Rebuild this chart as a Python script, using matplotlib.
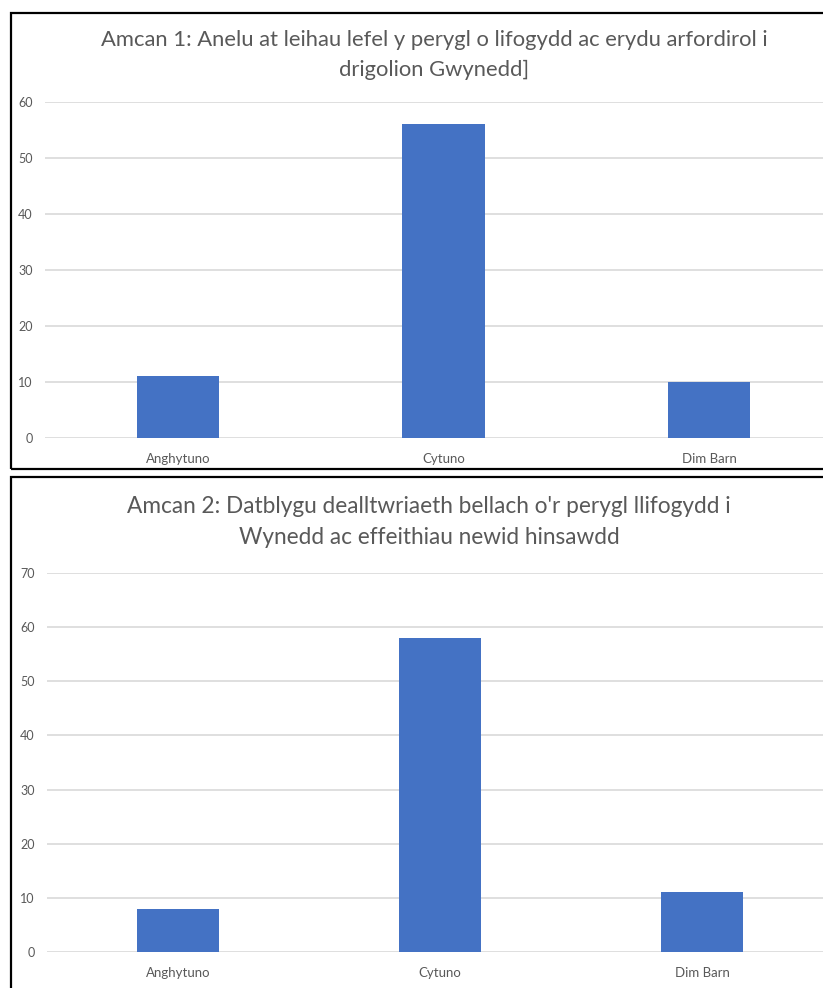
import matplotlib as mpl
mpl.use('Agg')
import matplotlib.pyplot as plt
from matplotlib.patches import Rectangle

# survey answers for the two objectives
categories = ["Anghytuno", "Cytuno", "Dim Barn"]
amcan1_values = [11, 56, 10]
amcan2_values = [8, 58, 11]
amcan1_title = "Amcan 1: Anelu at leihau lefel y perygl o lifogydd ac erydu arfordirol i\ndrigolion Gwynedd]"
amcan2_title = "Amcan 2: Datblygu dealltwriaeth bellach o'r perygl llifogydd i\nWynedd ac effeithiau newid hinsawdd"
amcan1_yticks = [0, 10, 20, 30, 40, 50, 60]
amcan2_yticks = [0, 10, 20, 30, 40, 50, 60, 70]

W, H = 823, 988
bar_col = "#4472C4"
txt_col = "#595959"
grid_col = "#D9D9D9"
plt.rcParams['font.family'] = ['Lato', 'DejaVu Sans']

fig = plt.figure(figsize=(W/100, H/100), dpi=100)
fig.patch.set_facecolor("white")

def px_box(x0, x1, ytop, ybot):
  return [x0/W, 1 - ybot/H, (x1 - x0)/W, (ybot - ytop)/H]

def draw_chart(box, values, yticks, title, title_x, title_y, title_size):
  ax = fig.add_axes(box)
  x = range(len(categories))
  ax.bar(x, values, width=0.31, color=bar_col, zorder=3)
  ax.set_xlim(-0.5, len(categories) - 0.5)
  ax.set_ylim(yticks[0], yticks[-1])
  ax.set_yticks(yticks)
  ax.set_xticks(list(x))
  ax.set_xticklabels(categories)
  ax.yaxis.grid(True, color=grid_col, linewidth=1.2, zorder=0)
  ax.set_axisbelow(True)
  for s in ax.spines.values():
    s.set_visible(False)
  ax.tick_params(axis='y', length=0, pad=9, labelsize=9, labelcolor=txt_col)
  ax.tick_params(axis='x', length=0, pad=11, labelsize=9.5, labelcolor=txt_col)
  fig.text(title_x/W, 1 - title_y/H, title, ha='center', va='top',
           fontsize=title_size, color=txt_col, linespacing=1.6)
  return ax

# chart 1
draw_chart(px_box(45, 842, 102, 438), amcan1_values, amcan1_yticks, amcan1_title, 434, 30, 15.8)
# chart 2
draw_chart(px_box(47, 833, 573, 952), amcan2_values, amcan2_yticks, amcan2_title, 429, 496, 16.3)

# black frames around each chart
fig.patches.append(Rectangle((11/W, 1 - 469/H), (W + 20)/W, 456/H, transform=fig.transFigure,
                             fill=False, edgecolor="black", linewidth=1.6))
fig.patches.append(Rectangle((11/W, 1 - (H + 20)/H), (W + 20)/W, (H + 20 - 477)/H, transform=fig.transFigure,
                             fill=False, edgecolor="black", linewidth=1.6))

plt.savefig("out.png", dpi=100)
plt.close()
